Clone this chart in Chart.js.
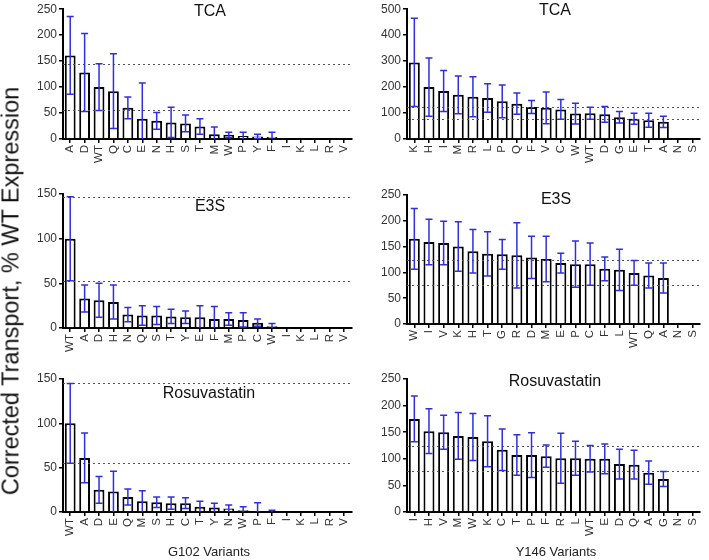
<!DOCTYPE html>
<html>
<head>
<meta charset="utf-8">
<script src="https://cdn.jsdelivr.net/npm/chart.js@4.4.0/dist/chart.umd.min.js"></script>
<style>
  body {
    margin: 0;
    width: 709px;
    height: 560px;
    background: #fff;
    position: relative;
    overflow: hidden;
    font-family: "Liberation Sans", Arial, sans-serif;
  }
  canvas {
    position: absolute;
  }
  .title {
    position: absolute;
    transform: translateX(-50%);
    font-size: 16px;
    color: #111;
    white-space: nowrap;
  }
  .xtitle {
    position: absolute;
    transform: translateX(-50%);
    font-size: 13px;
    color: #222;
    white-space: nowrap;
  }
  #ytitle {
    position: absolute;
    left: 11px;
    top: 291px;
    transform: translate(-50%, -50%) rotate(-90deg);
    font-size: 23.5px;
    color: #111;
    white-space: nowrap;
  }
</style>
</head>
<body>
<canvas id="g102Tca" width="360" height="175" style="left:0;top:0"></canvas>
<canvas id="g102E3s" width="360" height="184" style="left:0;top:180px"></canvas>
<canvas id="g102Rosu" width="360" height="182" style="left:0;top:366px"></canvas>
<canvas id="y146Tca" width="349" height="175" style="left:360px;top:0"></canvas>
<canvas id="y146E3s" width="349" height="184" style="left:360px;top:180px"></canvas>
<canvas id="y146Rosu" width="349" height="182" style="left:360px;top:366px"></canvas>

<div class="title" style="left:210px;top:2px">TCA</div>
<div class="title" style="left:555px;top:1px">TCA</div>
<div class="title" style="left:210px;top:197px">E3S</div>
<div class="title" style="left:556px;top:190px">E3S</div>
<div class="title" style="left:209px;top:384px">Rosuvastatin</div>
<div class="title" style="left:555px;top:372px">Rosuvastatin</div>
<div class="xtitle" style="left:209px;top:544px">G102 Variants</div>
<div class="xtitle" style="left:556px;top:544px">Y146 Variants</div>
<div id="ytitle">Corrected Transport, % WT Expression</div>

<script>
// G102 variants
const g102TcaLabels = ["A", "D", "WT", "Q", "C", "E", "N", "H", "S", "T", "M", "W", "P", "Y", "F", "I", "K", "L", "R", "V"];
const g102TcaMeans = [161, 128, 100, 92, 60, 39, 35, 32, 30, 24, 9, 8, 6, 5, 4, 0, 0, 0, 0, 0];
const g102TcaSd = [75, 75, 45, 72, 21, 69, 16, 29, 16, 15, 14, 5, 7, 4, 9, 0, 0, 0, 0, 0];
const g102TcaRef = [145, 55];

const g102E3sLabels = ["WT", "A", "D", "H", "N", "Q", "S", "T", "Y", "E", "F", "M", "P", "C", "W", "I", "K", "L", "R", "V"];
const g102E3sMeans = [100, 33, 31, 29, 15, 14, 14, 13, 12, 12, 10, 10, 9, 6, 2, 0, 0, 0, 0, 0];
const g102E3sSd = [47, 15, 19, 19, 8, 11, 10, 8, 7, 13, 14, 7, 8, 4, 3, 0, 0, 0, 0, 0];
const g102E3sRef = [147, 53];

const g102RosuLabels = ["WT", "A", "D", "E", "Q", "M", "S", "H", "C", "T", "Y", "N", "W", "P", "F", "I", "K", "L", "R", "V"];
const g102RosuMeans = [100, 61, 25, 23, 17, 12, 11, 10, 10, 6, 5, 4, 2, 0.5, 1, 0, 0, 0, 0, 0];
const g102RosuSd = [45, 28, 15, 23, 9, 12, 6, 7, 6, 6, 5, 4, 4, 10, 1, 0, 0, 0, 0, 0];
const g102RosuRef = [145, 55];

// Y146 variants
const y146TcaLabels = ["K", "H", "I", "M", "R", "L", "P", "Q", "F", "V", "C", "W", "WT", "D", "G", "E", "T", "A", "N", "S"];
const y146TcaMeans = [295, 200, 185, 170, 163, 158, 145, 136, 123, 120, 114, 98, 99, 95, 84, 78, 72, 66, 0, 0];
const y146TcaSd = [170, 112, 79, 73, 77, 55, 63, 41, 25, 61, 38, 40, 23, 30, 22, 21, 27, 22, 0, 0];
const y146TcaRef = [122, 76];

const y146E3sLabels = ["W", "I", "V", "K", "H", "T", "G", "R", "D", "M", "E", "P", "C", "F", "L", "WT", "Q", "A", "N", "S"];
const y146E3sMeans = [165, 159, 157, 150, 141, 136, 135, 133, 129, 126, 118, 116, 116, 107, 105, 99, 94, 89, 0, 0];
const y146E3sSd = [59, 44, 42, 48, 42, 43, 29, 63, 41, 44, 19, 45, 41, 23, 40, 24, 24, 29, 0, 0];
const y146E3sRef = [124, 76];

const y146RosuLabels = ["I", "H", "V", "M", "W", "K", "C", "T", "P", "F", "R", "L", "WT", "E", "D", "Q", "A", "G", "N", "S"];
const y146RosuMeans = [175, 152, 150, 143, 141, 133, 117, 107, 107, 105, 101, 101, 100, 100, 90, 89, 74, 62, 0, 0];
const y146RosuSd = [43, 42, 32, 44, 44, 48, 39, 38, 42, 21, 47, 32, 25, 28, 28, 27, 22, 14, 0, 0];
const y146RosuRef = [124, 78];

document.addEventListener("DOMContentLoaded", function () {
  const fontFamily = '"Liberation Sans", Arial, sans-serif';

  // dotted reference lines + blue SD bars, placed with the chart's own scales
  const makeErrorBars = (means, sd, refs) => ({
    id: "errorBars",
    afterDatasetsDraw(chart) {
      const { ctx, chartArea } = chart;
      const x = chart.scales.x;
      const y = chart.scales.y;
      ctx.save();

      ctx.strokeStyle = "#555";
      ctx.lineWidth = 1;
      ctx.setLineDash([2, 3]);
      refs.forEach((v) => {
        const py = Math.round(y.getPixelForValue(v)) + 0.5;
        ctx.beginPath();
        ctx.moveTo(chartArea.left, py);
        ctx.lineTo(chartArea.right, py);
        ctx.stroke();
      });
      ctx.setLineDash([]);

      ctx.strokeStyle = "#2f2fe0";
      ctx.lineWidth = 1.5;
      means.forEach((m, i) => {
        const s = sd[i];
        if (!s) return;
        const px = x.getPixelForValue(i);
        const top = y.getPixelForValue(m + s);
        const low = m - s;
        const bot = y.getPixelForValue(Math.max(0, low));
        ctx.beginPath();
        ctx.moveTo(px, top);
        ctx.lineTo(px, bot);
        ctx.moveTo(px - 3.5, top);
        ctx.lineTo(px + 3.5, top);
        if (low > 0) {
          ctx.moveTo(px - 3.5, bot);
          ctx.lineTo(px + 3.5, bot);
        }
        ctx.stroke();
      });
      ctx.restore();
    },
  });

  const drawPanel = (id, labels, means, sd, refs, opts) => {
    const ctx = document.getElementById(id).getContext("2d");
    return new Chart(ctx, {
      type: "bar",
      data: {
        labels: labels,
        datasets: [
          {
            data: means,
            backgroundColor: "#fff",
            borderColor: "#000",
            borderWidth: 2,
            barPercentage: 0.75,
            categoryPercentage: 1,
          },
        ],
      },
      options: {
        responsive: false,
        animation: false,
        layout: {
          padding: { top: opts.padTop, right: opts.padRight, left: 0, bottom: 0 },
        },
        plugins: {
          legend: { display: false },
          tooltip: { enabled: false },
        },
        scales: {
          x: {
            grid: {
              display: true,
              drawOnChartArea: false,
              drawTicks: true,
              offset: false,
              tickLength: 4,
              color: "#000",
              lineWidth: 1.5,
            },
            border: { color: "#000", width: 2 },
            ticks: {
              autoSkip: false,
              minRotation: 90,
              maxRotation: 90,
              padding: 2,
              color: "#333",
              font: { family: fontFamily, size: 11.5 },
            },
            afterFit: (scale) => {
              scale.height = opts.xHeight;
            },
          },
          y: {
            min: 0,
            max: opts.max,
            grid: {
              display: true,
              drawOnChartArea: false,
              drawTicks: true,
              tickLength: 4,
              color: "#000",
              lineWidth: 1.5,
            },
            border: { color: "#000", width: 2 },
            ticks: {
              stepSize: opts.step,
              padding: 2,
              color: "#333",
              font: { family: fontFamily, size: 12 },
            },
            afterFit: (scale) => {
              scale.width = opts.axisWidth;
            },
          },
        },
      },
      plugins: [makeErrorBars(means, sd, refs)],
    });
  };

  drawPanel("g102Tca", g102TcaLabels, g102TcaMeans, g102TcaSd, g102TcaRef,
    { padTop: 7, padRight: 5, xHeight: 36, axisWidth: 63, max: 250, step: 50 });
  drawPanel("g102E3s", g102E3sLabels, g102E3sMeans, g102E3sSd, g102E3sRef,
    { padTop: 14, padRight: 5, xHeight: 36, axisWidth: 63, max: 150, step: 50 });
  drawPanel("g102Rosu", g102RosuLabels, g102RosuMeans, g102RosuSd, g102RosuRef,
    { padTop: 13, padRight: 5, xHeight: 36, axisWidth: 63, max: 150, step: 50 });

  drawPanel("y146Tca", y146TcaLabels, y146TcaMeans, y146TcaSd, y146TcaRef,
    { padTop: 7, padRight: 9, xHeight: 36, axisWidth: 47, max: 500, step: 100 });
  drawPanel("y146E3s", y146E3sLabels, y146E3sMeans, y146E3sSd, y146E3sRef,
    { padTop: 15, padRight: 9, xHeight: 40, axisWidth: 47, max: 250, step: 50 });
  drawPanel("y146Rosu", y146RosuLabels, y146RosuMeans, y146RosuSd, y146RosuRef,
    { padTop: 13, padRight: 9, xHeight: 36, axisWidth: 47, max: 250, step: 50 });
});
</script>
</body>
</html>
